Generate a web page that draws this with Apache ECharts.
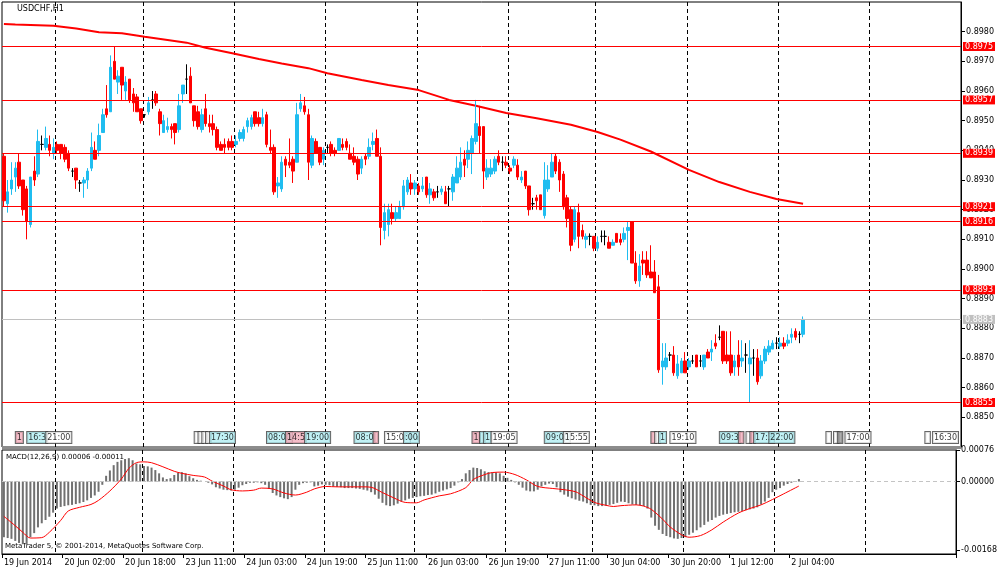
<!DOCTYPE html>
<html>
<head>
<meta charset="utf-8">
<title>USDCHF,H1</title>
<script src="https://cdn.jsdelivr.net/npm/echarts@6.0.0/dist/echarts.min.js"></script>
<style>
html, body { margin: 0; padding: 0; background: #fff; }
#chart { width: 1000px; height: 574px; }
</style>
</head>
<body>
<div id="chart"></div>
<script>
// texts
var symbolName = 'USDCHF,H1';
var macdName = 'MACD(12,26,9) 0.00006 -0.00011';
var copyright = 'MetaTrader 5, © 2001-2014, MetaQuotes Software Corp.';

// bar slots on the time axis (bars + empty space on the right)
var barSlots = 252;
// time labels, one every 16 bars
var timeLabels = ['19 Jun 2014', '20 Jun 02:00', '20 Jun 18:00', '23 Jun 11:00', '24 Jun 03:00',
    '24 Jun 19:00', '25 Jun 11:00', '26 Jun 03:00', '26 Jun 19:00', '27 Jun 11:00',
    '30 Jun 04:00', '30 Jun 20:00', '1 Jul 12:00', '2 Jul 04:00'];
// bars where the vertical dashed grid lines sit
var dayLines = [14, 37, 61, 85, 109, 133, 156, 180, 204, 228];

var priceTicks = [0.8850, 0.8860, 0.8870, 0.8880, 0.8890, 0.8900, 0.8910, 0.8920,
    0.8930, 0.8940, 0.8950, 0.8960, 0.8970, 0.8980];
var macdTicks = [0.00076, 0, -0.00168];

// horizontal levels
var levels = [0.8975, 0.8957, 0.8939, 0.8921, 0.8916, 0.8893, 0.8855];
var bidPrice = 0.8883;

// [open, close, low, high]
var candles = [
[0.8938,0.8923,0.8921,0.8939],[0.8922,0.8926,0.8919,0.8930],[0.8927,0.8930,0.8925,0.8936],[0.8931,0.8934,0.8926,0.8936],
[0.8936,0.8928,0.8927,0.8939],[0.8930,0.8920,0.8918,0.8930],[0.8927,0.8916,0.8910,0.8928],[0.8915,0.8931,0.8914,0.8931],
[0.8933,0.8930,0.8928,0.8938],[0.8932,0.8943,0.8931,0.8947],[0.8942,0.8942,0.8940,0.8945],[0.8941,0.8944,0.8940,0.8948],
[0.8942,0.8940,0.8938,0.8945],[0.8939,0.8941,0.8937,0.8944],[0.8942,0.8940,0.8939,0.8943],[0.8942,0.8939,0.8937,0.8942],
[0.8941,0.8937,0.8936,0.8942],[0.8939,0.8934,0.8933,0.8940],[0.8933,0.8933,0.8931,0.8934],[0.8934,0.8930,0.8927,0.8934],
[0.8929,0.8929,0.8926,0.8930],[0.8929,0.8930,0.8924,0.8931],[0.8930,0.8933,0.8927,0.8934],[0.8934,0.8941,0.8933,0.8946],
[0.8940,0.8937,0.8937,0.8943],[0.8940,0.8945,0.8938,0.8949],[0.8946,0.8952,0.8946,0.8954],[0.8954,0.8952,0.8951,0.8962],
[0.8953,0.8968,0.8953,0.8972],[0.8970,0.8964,0.8964,0.8975],[0.8963,0.8965,0.8959,0.8967],[0.8968,0.8962,0.8957,0.8968],
[0.8960,0.8963,0.8957,0.8965],[0.8964,0.8957,0.8956,0.8964],[0.8959,0.8956,0.8953,0.8961],[0.8958,0.8953,0.8953,0.8959],
[0.8954,0.8950,0.8949,0.8954],[0.8952,0.8952,0.8951,0.8952],[0.8953,0.8956,0.8952,0.8958],[0.8957,0.8957,0.8954,0.8960],
[0.8959,0.8956,0.8955,0.8960],[0.8953,0.8949,0.8945,0.8954],[0.8946,0.8950,0.8946,0.8952],[0.8947,0.8948,0.8946,0.8951],
[0.8948,0.8947,0.8944,0.8949],[0.8949,0.8946,0.8942,0.8949],[0.8947,0.8955,0.8946,0.8959],[0.8959,0.8962,0.8956,0.8962],
[0.8964,0.8964,0.8959,0.8969],[0.8965,0.8956,0.8956,0.8968],[0.8955,0.8950,0.8948,0.8955],[0.8953,0.8948,0.8947,0.8955],
[0.8947,0.8952,0.8946,0.8954],[0.8954,0.8949,0.8948,0.8959],[0.8949,0.8948,0.8946,0.8952],[0.8949,0.8947,0.8945,0.8952],
[0.8947,0.8941,0.8940,0.8948],[0.8942,0.8940,0.8940,0.8943],[0.8942,0.8941,0.8939,0.8944],[0.8943,0.8941,0.8940,0.8944],
[0.8943,0.8941,0.8940,0.8945],[0.8942,0.8943,0.8941,0.8945],[0.8944,0.8946,0.8943,0.8947],[0.8944,0.8947,0.8943,0.8948],
[0.8948,0.8950,0.8946,0.8951],[0.8948,0.8951,0.8947,0.8952],[0.8953,0.8949,0.8948,0.8953],[0.8951,0.8949,0.8948,0.8953],
[0.8949,0.8951,0.8948,0.8954],[0.8952,0.8942,0.8941,0.8953],[0.8941,0.8940,0.8939,0.8947],[0.8941,0.8926,0.8925,0.8942],
[0.8928,0.8929,0.8924,0.8931],[0.8927,0.8936,0.8926,0.8938],[0.8937,0.8935,0.8931,0.8938],[0.8936,0.8935,0.8934,0.8944],
[0.8937,0.8933,0.8929,0.8938],[0.8936,0.8952,0.8936,0.8956],[0.8954,0.8956,0.8953,0.8959],[0.8955,0.8953,0.8952,0.8958],
[0.8952,0.8936,0.8930,0.8954],[0.8935,0.8944,0.8934,0.8945],[0.8943,0.8939,0.8939,0.8944],[0.8941,0.8936,0.8935,0.8941],
[0.8937,0.8940,0.8935,0.8941],[0.8941,0.8941,0.8939,0.8942],[0.8942,0.8939,0.8938,0.8943],[0.8940,0.8939,0.8938,0.8941],
[0.8940,0.8944,0.8940,0.8944],[0.8942,0.8941,0.8940,0.8944],[0.8943,0.8941,0.8940,0.8944],[0.8939,0.8937,0.8937,0.8942],
[0.8938,0.8936,0.8935,0.8941],[0.8937,0.8932,0.8930,0.8938],[0.8934,0.8937,0.8932,0.8938],[0.8938,0.8937,0.8935,0.8939],
[0.8938,0.8941,0.8937,0.8944],[0.8942,0.8943,0.8940,0.8946],[0.8944,0.8938,0.8938,0.8947],[0.8938,0.8914,0.8908,0.8941],
[0.8913,0.8919,0.8910,0.8922],[0.8915,0.8920,0.8911,0.8922],[0.8919,0.8917,0.8915,0.8922],[0.8917,0.8919,0.8916,0.8921],
[0.8917,0.8921,0.8917,0.8923],[0.8921,0.8928,0.8920,0.8930],[0.8926,0.8930,0.8925,0.8931],[0.8929,0.8927,0.8925,0.8932],
[0.8927,0.8929,0.8925,0.8930],[0.8928,0.8926,0.8925,0.8929],[0.8927,0.8928,0.8926,0.8931],[0.8931,0.8925,0.8924,0.8931],
[0.8925,0.8927,0.8922,0.8929],[0.8926,0.8924,0.8923,0.8927],[0.8926,0.8926,0.8924,0.8928],[0.8926,0.8927,0.8925,0.8928],
[0.8926,0.8922,0.8922,0.8928],[0.8927,0.8927,0.8921,0.8928],[0.8926,0.8931,0.8923,0.8932],[0.8929,0.8934,0.8929,0.8938],
[0.8931,0.8936,0.8930,0.8941],[0.8937,0.8935,0.8931,0.8940],[0.8937,0.8940,0.8934,0.8943],[0.8939,0.8944,0.8932,0.8945],
[0.8943,0.8949,0.8942,0.8957],[0.8948,0.8945,0.8939,0.8955],[0.8948,0.8933,0.8927,0.8948],[0.8931,0.8934,0.8930,0.8937],
[0.8932,0.8934,0.8931,0.8937],[0.8933,0.8937,0.8932,0.8938],[0.8938,0.8936,0.8935,0.8940],[0.8936,0.8936,0.8933,0.8938],
[0.8936,0.8935,0.8934,0.8938],[0.8934,0.8933,0.8932,0.8935],[0.8935,0.8937,0.8934,0.8938],[0.8935,0.8931,0.8930,0.8937],
[0.8930,0.8931,0.8929,0.8933],[0.8933,0.8928,0.8927,0.8933],[0.8928,0.8920,0.8918,0.8928],[0.8922,0.8922,0.8920,0.8924],
[0.8924,0.8923,0.8920,0.8925],[0.8925,0.8920,0.8920,0.8925],[0.8918,0.8930,0.8917,0.8936],[0.8927,0.8930,0.8926,0.8935],
[0.8931,0.8936,0.8931,0.8939],[0.8938,0.8933,0.8932,0.8939],[0.8936,0.8930,0.8926,0.8937],[0.8932,0.8921,0.8920,0.8933],
[0.8924,0.8917,0.8914,0.8925],[0.8920,0.8908,0.8906,0.8921],[0.8910,0.8920,0.8909,0.8921],[0.8919,0.8911,0.8907,0.8922],
[0.8913,0.8911,0.8910,0.8915],[0.8910,0.8911,0.8907,0.8912],[0.8911,0.8911,0.8908,0.8912],[0.8911,0.8907,0.8906,0.8911],
[0.8907,0.8909,0.8906,0.8911],[0.8911,0.8911,0.8909,0.8913],[0.8911,0.8911,0.8908,0.8913],[0.8909,0.8907,0.8907,0.8911],
[0.8908,0.8909,0.8908,0.8910],[0.8912,0.8909,0.8909,0.8912],[0.8910,0.8909,0.8908,0.8912],[0.8910,0.8912,0.8909,0.8914],
[0.8913,0.8914,0.8903,0.8916],[0.8916,0.8902,0.8902,0.8916],[0.8902,0.8896,0.8895,0.8906],[0.8896,0.8901,0.8894,0.8905],
[0.8903,0.8902,0.8898,0.8906],[0.8903,0.8898,0.8897,0.8906],[0.8899,0.8897,0.8897,0.8908],[0.8899,0.8892,0.8892,0.8903],
[0.8894,0.8866,0.8865,0.8898],[0.8867,0.8869,0.8861,0.8875],[0.8867,0.8870,0.8866,0.8875],[0.8871,0.8871,0.8869,0.8872],
[0.8871,0.8865,0.8864,0.8874],[0.8864,0.8868,0.8863,0.8871],[0.8865,0.8869,0.8865,0.8870],[0.8869,0.8865,0.8865,0.8872],
[0.8867,0.8869,0.8866,0.8870],[0.8869,0.8869,0.8868,0.8871],[0.8871,0.8867,0.8867,0.8871],[0.8869,0.8869,0.8867,0.8871],
[0.8867,0.8871,0.8866,0.8871],[0.8872,0.8870,0.8870,0.8873],[0.8872,0.8873,0.8869,0.8876],[0.8875,0.8874,0.8873,0.8878],
[0.8877,0.8877,0.8876,0.8881],[0.8879,0.8869,0.8868,0.8879],[0.8871,0.8869,0.8868,0.8879],[0.8871,0.8865,0.8864,0.8879],
[0.8867,0.8869,0.8864,0.8871],[0.8871,0.8867,0.8864,0.8876],[0.8869,0.8870,0.8867,0.8876],[0.8871,0.8871,0.8865,0.8875],
[0.8868,0.8870,0.8855,0.8876],[0.8870,0.8870,0.8864,0.8873],[0.8870,0.8862,0.8861,0.8873],[0.8864,0.8869,0.8863,0.8871],
[0.8869,0.8873,0.8868,0.8874],[0.8872,0.8874,0.8871,0.8876],[0.8873,0.8875,0.8873,0.8876],[0.8875,0.8875,0.8873,0.8877],
[0.8874,0.8875,0.8873,0.8877],[0.8875,0.8874,0.8873,0.8877],[0.8875,0.8876,0.8874,0.8878],[0.8877,0.8878,0.8875,0.8880],
[0.8879,0.8877,0.8876,0.8880],[0.8878,0.8878,0.8875,0.8879],[0.8878,0.8883,0.8877,0.8884]
];

// moving average, read at sampled bars: [bar, price]
var maPts = [[0,0.89826],[3,0.89824],[13,0.89820],[19,0.89811],[25,0.89798],[31,0.89795],[37,0.89783],
    [43,0.89772],[48,0.89763],[53,0.89746],[60,0.89727],[67,0.89708],[73,0.89693],[80,0.89677],
    [85,0.89660],[94,0.89637],[101,0.89620],[109,0.89603],[117,0.89570],[124,0.89550],[132,0.89526],
    [140,0.89508],[149,0.89486],[156,0.89462],[162,0.89436],[170,0.89396],[180,0.89334],[188,0.89293],
    [196,0.89260],[203,0.89236],[210,0.89220]];

// MACD main (histogram), one per bar
var macdHist = [
-0.00136,-0.00138,-0.00140,-0.00145,-0.00150,-0.00153,-0.00154,-0.00136,-0.00126,-0.00112,
-0.00102,-0.00094,-0.00086,-0.00076,-0.00066,-0.00062,-0.00060,-0.00058,-0.00057,-0.00055,
-0.00053,-0.00050,-0.00046,-0.00040,-0.00034,-0.00025,-0.00008,0.00014,0.00027,0.00040,
0.00048,0.00052,0.00055,0.00057,0.00052,0.00044,0.00042,0.00038,0.00037,0.00034,
0.00028,0.00020,0.00010,0.00006,0.00008,0.00016,0.00021,0.00023,0.00020,0.00013,
0.00008,0.00004,0.00002,0.00000,-0.00003,-0.00007,-0.00014,-0.00017,-0.00020,-0.00021,
-0.00022,-0.00020,-0.00015,-0.00009,-0.00006,-0.00003,-0.00003,-0.00002,-0.00004,-0.00008,
-0.00018,-0.00028,-0.00034,-0.00038,-0.00041,-0.00043,-0.00038,-0.00020,-0.00008,-0.00004,
-0.00003,-0.00002,-0.00012,-0.00010,-0.00007,-0.00008,-0.00009,-0.00012,-0.00013,-0.00014,
-0.00016,-0.00016,-0.00016,-0.00017,-0.00018,-0.00020,-0.00022,-0.00026,-0.00032,-0.00042,
-0.00052,-0.00058,-0.00060,-0.00058,-0.00054,-0.00049,-0.00046,-0.00042,-0.00040,-0.00038,
-0.00036,-0.00035,-0.00033,-0.00032,-0.00029,-0.00025,-0.00022,-0.00019,-0.00016,-0.00010,
-0.00002,0.00006,0.00020,0.00028,0.00034,0.00033,0.00030,0.00025,0.00023,0.00022,
0.00022,0.00020,0.00014,0.00009,0.00004,-0.00002,-0.00008,-0.00015,-0.00022,-0.00024,
-0.00024,-0.00020,-0.00012,-0.00008,-0.00005,-0.00006,-0.00014,-0.00026,-0.00032,-0.00037,
-0.00041,-0.00044,-0.00047,-0.00049,-0.00053,-0.00057,-0.00058,-0.00060,-0.00060,-0.00059,
-0.00057,-0.00055,-0.00052,-0.00049,-0.00050,-0.00053,-0.00056,-0.00057,-0.00058,-0.00060,
-0.00066,-0.00088,-0.00108,-0.00118,-0.00128,-0.00133,-0.00136,-0.00139,-0.00140,-0.00138,
-0.00136,-0.00130,-0.00125,-0.00119,-0.00112,-0.00106,-0.00098,-0.00094,-0.00088,-0.00084,
-0.00081,-0.00079,-0.00077,-0.00075,-0.00074,-0.00072,-0.00070,-0.00068,-0.00066,-0.00063,
-0.00056,-0.00049,-0.00040,-0.00026,-0.00020,-0.00016,-0.00010,-0.00006,-0.00003,-0.00001,
0.00006
];

// MACD signal, read at sampled bars: [bar, value]
var signalPts = [[0,-0.00085],[3,-0.00108],[5,-0.00124],[7,-0.00138],[10,-0.00137],[12,-0.00124],
    [15,-0.00095],[17,-0.00072],[20,-0.00063],[23,-0.00056],[25,-0.00046],[28,-0.00023],[31,0.00006],
    [33,0.00032],[35,0.00046],[37,0.00048],[39,0.00046],[42,0.00036],[45,0.00025],[47,0.00020],
    [50,0.00015],[53,0.00011],[55,0.00001],[58,-0.00011],[60,-0.00020],[63,-0.00023],[66,-0.00021],
    [68,-0.00016],[71,-0.00018],[74,-0.00028],[77,-0.00033],[80,-0.00026],[82,-0.00018],[85,-0.00012],
    [88,-0.00013],[92,-0.00013],[95,-0.00013],[97,-0.00014],[100,-0.00027],[103,-0.00040],[106,-0.00051],
    [109,-0.00052],[111,-0.00045],[115,-0.00035],[118,-0.00030],[122,-0.00015],[124,0.00005],
    [127,0.00017],[129,0.00022],[132,0.00023],[135,0.00017],[138,0.00004],[141,-0.00012],[145,-0.00017],
    [148,-0.00020],[151,-0.00025],[153,-0.00035],[156,-0.00051],[159,-0.00058],[161,-0.00061],
    [163,-0.00059],[167,-0.00057],[169,-0.00060],[171,-0.00068],[174,-0.00092],[176,-0.00111],
    [179,-0.00130],[181,-0.00136],[184,-0.00132],[187,-0.00118],[190,-0.00099],[194,-0.00077],
    [197,-0.00066],[200,-0.00057],[203,-0.00044],[206,-0.00030],[210,-0.00011]];

// calendar event flags along the bottom of the price panel
var eventIdx  = [3, 6, 11, 50, 51, 52, 53, 54, 69, 74, 79, 92, 97, 100, 105, 123, 125, 126, 128,
    142, 147, 170, 171, 172, 175, 188, 193, 195, 196, 197, 201, 216, 218, 219, 221, 242, 244];
var eventText = ['1', '16:3', '21:00', ' ', ' ', ' ', ' ', '17:30', '08:00', '14:5', '19:00', '08:0', ' ',
    '15:00', ':00', '1', ' ', '1', '19:05', '09:00', '15:55', ' ', ' ', '1', '19:10', '09:3', ' ', ' ', ' ',
    '17:3', '22:00', ' ', ' ', ' ', '17:00', ' ', '16:30'];
var eventKind = ['p', 'c', 'w', 'w', 'w', 'w', 'w', 'c', 'c', 'p', 'c', 'c', 'p', 'w', 'c', 'p', 'c', 'c', 'w',
    'c', 'w', 'p', 'w', 'c', 'w', 'c', 'p', 'w', 'p', 'c', 'c', 'w', 'w', 'g', 'w', 'w', 'w'];

var eventRowPrice = 0.88432;
var kindColor = { p: '#f3aebb', c: '#b2eef2', w: '#ffffff', g: '#9a9a9a' };
var font = 'DejaVu Sans';
var bullColor = '#1fbdf0';
var bearColor = '#ff0000';

var cats = [];
for (var i = 0; i < barSlots; i++) {
    cats.push(String(i));
}

function isLabelBar(i) {
    return i % 16 === 0 && i / 16 < timeLabels.length;
}
function isDayLine(i) {
    return dayLines.indexOf(i) >= 0;
}

var levelLines = levels.map(function (v) {
    return {
        yAxis: v,
        lineStyle: { color: '#ff0000', width: 1, type: 'solid' },
        label: { backgroundColor: '#ff0000' }
    };
});
levelLines.push({
    yAxis: bidPrice,
    lineStyle: { color: '#c0c0c0', width: 1, type: 'solid' },
    label: { backgroundColor: '#c0c0c0' }
});

var events = eventIdx.map(function (x, k) {
    return {
        value: [x, eventRowPrice],
        label: { formatter: eventText[k], backgroundColor: kindColor[eventKind[k]] }
    };
});

var dashed = { color: '#000', width: 1, type: [4, 3] };

var option = {
    animation: false,
    textStyle: { fontFamily: font },
    grid: [
        { left: 2, right: 39, top: 2, height: 445, show: true, borderColor: '#000', borderWidth: 1 },
        { left: 2, right: 39, top: 450, height: 104, show: true, borderColor: '#000', borderWidth: 1 }
    ],
    xAxis: [
        {
            type: 'category', gridIndex: 0, data: cats, boundaryGap: true,
            axisLine: { show: false, onZero: false }, axisTick: { show: false }, axisLabel: { show: false },
            splitLine: { show: true, interval: isDayLine, lineStyle: dashed }
        },
        {
            type: 'category', gridIndex: 1, data: cats, boundaryGap: true, position: 'bottom',
            axisLine: { show: true, onZero: false, lineStyle: { color: '#000' } },
            axisTick: { show: true, interval: isLabelBar, length: 4, lineStyle: { color: '#000' } },
            axisLabel: {
                interval: isLabelBar, align: 'left', fontSize: 8, color: '#000', margin: 5,
                formatter: function (v) { return timeLabels[Number(v) / 16] || ''; }
            },
            splitLine: { show: true, interval: isDayLine, lineStyle: dashed }
        }
    ],
    yAxis: [
        {
            type: 'value', gridIndex: 0, position: 'right', min: 0.8840, max: 0.8990, interval: 0.001,
            axisLine: { show: true, lineStyle: { color: '#000' } },
            axisTick: { show: true, length: 4, customValues: priceTicks, lineStyle: { color: '#000' } },
            axisLabel: {
                customValues: priceTicks, fontSize: 8, color: '#000', margin: 5,
                formatter: function (v) { return v.toFixed(4); }
            },
            splitLine: { show: false }
        },
        {
            type: 'value', gridIndex: 1, position: 'right', min: -0.00177, max: 0.00077,
            axisLine: { show: true, lineStyle: { color: '#000' } },
            axisTick: { show: true, length: 4, customValues: macdTicks, lineStyle: { color: '#000' } },
            axisLabel: {
                customValues: macdTicks, fontSize: 8, color: '#000', margin: 5,
                formatter: function (v) { return v.toFixed(5); }
            },
            splitLine: { show: false }
        }
    ],
    series: [
        {
            name: 'MA', type: 'line', xAxisIndex: 0, yAxisIndex: 0, data: maPts,
            symbol: 'none', silent: true, z: 2,
            lineStyle: { color: '#ff0000', width: 2 },
            markLine: {
                silent: true, symbol: ['none', 'none'], animation: false, precision: 4,
                label: {
                    show: true, position: 'end', distance: 2,
                    formatter: function (p) { return Number(p.value).toFixed(4); },
                    color: '#fff', fontSize: 8, padding: [1, 2, 0, 2]
                },
                data: levelLines
            }
        },
        {
            name: symbolName, type: 'candlestick', xAxisIndex: 0, yAxisIndex: 0, data: candles,
            barWidth: 3, silent: true, z: 3,
            itemStyle: {
                color: bullColor, color0: bearColor,
                borderColor: bullColor, borderColor0: bearColor,
                borderColorDoji: '#000', borderWidth: 1
            }
        },
        {
            name: 'events', type: 'scatter', xAxisIndex: 0, yAxisIndex: 0, data: events,
            symbolSize: 1, silent: true, z: 4,
            itemStyle: { color: 'rgba(0,0,0,0)' },
            label: {
                show: true, position: 'right', distance: 0, fontSize: 8, color: '#000',
                borderColor: '#404040', borderWidth: 1, padding: [2, 1, 1, 1]
            }
        },
        {
            name: 'MACD', type: 'bar', xAxisIndex: 1, yAxisIndex: 1, data: macdHist,
            barWidth: 2, silent: true,
            itemStyle: { color: '#707070' }
        },
        {
            name: 'Signal', type: 'line', xAxisIndex: 1, yAxisIndex: 1, data: signalPts,
            symbol: 'none', silent: true, smooth: 0.3,
            lineStyle: { color: '#ff0000', width: 1 },
            markLine: {
                silent: true, symbol: ['none', 'none'], label: { show: false },
                data: [{
                    yAxis: 0,
                    lineStyle: { color: '#c4c4c4', width: 1, type: [4, 3], opacity: 1 }
                }]
            }
        }
    ],
    graphic: [
        { type: 'rect', left: 2, top: 446, shape: { width: 959, height: 3 }, style: { fill: '#8c8c8c' }, silent: true },
        { type: 'text', left: 17, top: 5, style: { text: symbolName, fontSize: 8, fontFamily: font, fill: '#000' } },
        { type: 'text', left: 6, top: 454, style: { text: macdName, fontSize: 7, fontFamily: font, fill: '#000' } },
        { type: 'text', left: 5, top: 543, style: { text: copyright, fontSize: 7, fontFamily: font, fill: '#000' } }
    ]
};

var chart = echarts.init(document.getElementById('chart'));
chart.setOption(option);
</script>
</body>
</html>
